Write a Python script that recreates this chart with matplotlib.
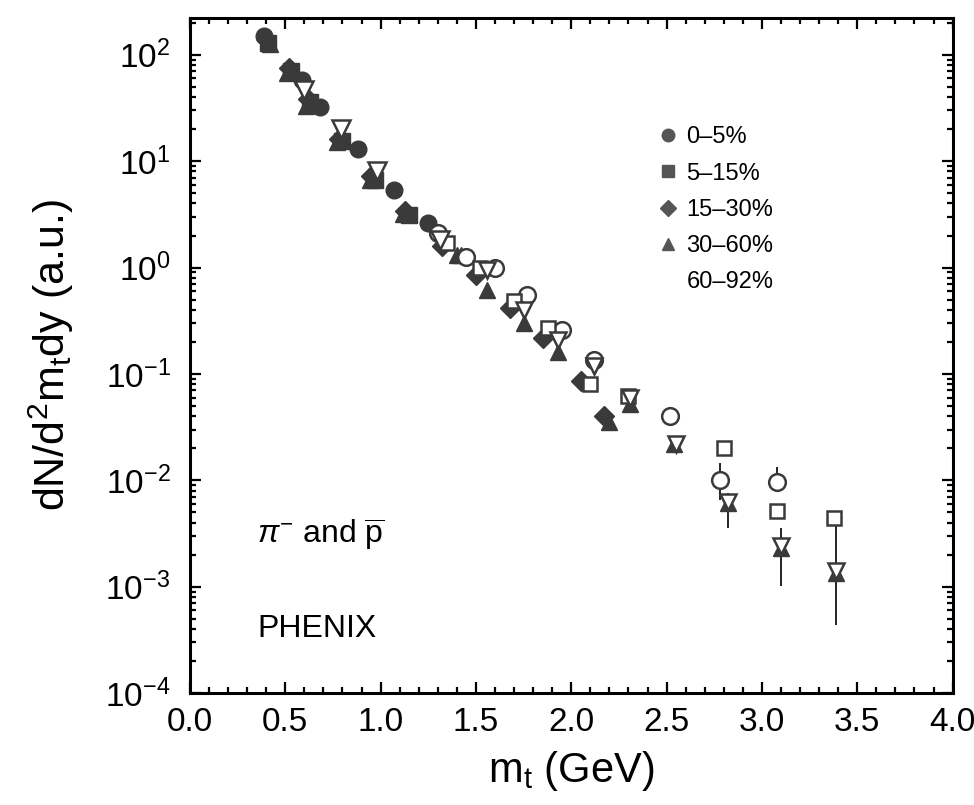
import numpy as np
import matplotlib
matplotlib.use("Agg")
import matplotlib.pyplot as plt
from matplotlib.lines import Line2D
from matplotlib.ticker import MultipleLocator, LogLocator, FormatStrFormatter

plt.rcParams['font.family'] = ['Liberation Sans', 'DejaVu Sans']
plt.rcParams['mathtext.fontset'] = 'custom'
plt.rcParams['mathtext.rm'] = 'Liberation Sans'
plt.rcParams['mathtext.it'] = 'Liberation Sans:italic'
plt.rcParams['mathtext.sf'] = 'Liberation Sans'

labels = ["0\u20135%", "5\u201315%", "15\u201330%", "30\u201360%", "60\u201392%"]
markers = ["o", "s", "D", "^", "v"]

# pi- points (filled, 60-92% open)
pi_mt = [
    [0.39, 0.59, 0.68, 0.88, 1.07, 1.25],
    [0.41, 0.53, 0.63, 0.80, 0.97, 1.15],
    [0.40, 0.52, 0.62, 0.78, 0.95, 1.13],
    [0.42, 0.51, 0.61, 0.77, 0.945, 1.12, 1.40],
    [0.60, 0.79, 0.98, 1.31],
]
pi_y = [
    [150, 58, 32, 13, 5.4, 2.6],
    [130, 70, 36, 15.5, 6.6, 3.1],
    [140, 75, 38, 16, 7.2, 3.4],
    [125, 68, 33, 15, 6.6, 3.2, 1.3],
    [47, 20, 8.0, 1.8],
]

# pbar points
pb_mt = [
    [1.30, 1.45, 1.60, 1.77, 1.95, 2.12, 2.52, 2.78, 3.08],
    [1.35, 1.52, 1.70, 1.88, 2.10, 2.30, 2.80, 3.08, 3.38],
    [1.32, 1.50, 1.68, 1.85, 2.05, 2.17],
    [1.42, 1.56, 1.75, 1.93, 2.20, 2.31, 2.54, 2.82, 3.10, 3.39],
    [1.56, 1.75, 1.93, 2.12, 2.31, 2.55, 2.82, 3.10, 3.39],
]
pb_y = [
    [2.1, 1.25, 1.0, 0.55, 0.26, 0.135, 0.040, 0.010, 0.0097],
    [1.7, 1.0, 0.48, 0.27, 0.08, 0.062, 0.020, 0.0052, 0.0044],
    [1.6, 0.85, 0.42, 0.22, 0.085, 0.040],
    [1.3, 0.62, 0.30, 0.16, 0.035, 0.052, 0.022, 0.0061, 0.0023, 0.00135],
    [0.95, 0.40, 0.21, 0.12, 0.06, 0.022, 0.0062, 0.0024, 0.0014],
]
pb_open = [True, True, False, False, True]

# error bars at high mt
err_mt = [2.78, 2.82, 3.08, 3.10, 3.39]
err_lo = [0.0065, 0.0036, 0.0097, 0.00101, 0.00044]
err_hi = [0.0147, 0.0076, 0.0134, 0.0036, 0.0042]

dark = "#3a3a3a"

fig = plt.figure(figsize=(9.74, 8.05), dpi=100)
ax = fig.add_axes([0.195, 0.139, 0.783, 0.839])

ax.vlines(err_mt, err_lo, err_hi, color="black", lw=1.2, zorder=1)

for i in range(5):
    if i == 4:
        ax.plot(pi_mt[i], pi_y[i], ls="none", marker=markers[i], ms=13,
                mfc="white", mec=dark, mew=1.8, zorder=3)
    else:
        ax.plot(pi_mt[i], pi_y[i], ls="none", marker=markers[i], ms=12 if i != 2 else 10,
                mfc=dark, mec=dark, zorder=2)
    if pb_open[i]:
        ax.plot(pb_mt[i], pb_y[i], ls="none", marker=markers[i], ms=12 if i != 1 else 10,
                mfc="white", mec=dark, mew=1.8, zorder=3)
    else:
        ax.plot(pb_mt[i], pb_y[i], ls="none", marker=markers[i], ms=12 if i != 2 else 10,
                mfc=dark, mec=dark, zorder=2)

ax.set_yscale("log")
ax.set_xlim(0, 4.0)
ax.set_ylim(1e-4, 223)

ax.xaxis.set_major_locator(MultipleLocator(0.5))
ax.xaxis.set_minor_locator(MultipleLocator(0.1))
ax.xaxis.set_major_formatter(FormatStrFormatter("%.1f"))
ax.yaxis.set_major_locator(LogLocator(base=10, numticks=20))
ax.yaxis.set_minor_locator(LogLocator(base=10, subs=np.arange(2, 10), numticks=20))

ax.tick_params(which="both", direction="in", top=True, right=True, width=1.6)
ax.tick_params(which="major", length=8, labelsize=24)
ax.tick_params(axis="x", which="major", pad=10)
ax.tick_params(axis="y", which="major", pad=14)
ax.tick_params(which="minor", length=4)
for s in ax.spines.values():
    s.set_linewidth(2.2)

ax.set_xlabel(r"m$_{\rm t}$ (GeV)", fontsize=30)
ax.set_ylabel(r"dN/d$^{2}$m$_{\rm t}$dy (a.u.)", fontsize=31)
ax.xaxis.set_label_coords(0.5, -0.083)
ax.yaxis.set_label_coords(-0.15, 0.5)

ax.text(0.088, 0.234, r"$\pi^{-}$ and $\overline{\rm p}$", transform=ax.transAxes,
        fontsize=23, va="center", ha="left")
ax.text(0.088, 0.095, "PHENIX", transform=ax.transAxes,
        fontsize=23, va="center", ha="left")

handles = []
for i in range(5):
    if i == 4:
        handles.append(Line2D([], [], ls="none", marker=markers[i], ms=9,
                              mfc="none", mec="none"))
    else:
        handles.append(Line2D([], [], ls="none", marker=markers[i],
                              ms=9 if i != 2 else 8, mfc="#555555", mec="#555555"))
ax.legend(handles, labels, loc="upper left", bbox_to_anchor=(0.614, 0.839),
          frameon=False, fontsize=17, handlelength=0.8, handletextpad=0.4,
          labelspacing=0.6, borderpad=0, borderaxespad=0)

fig.savefig("out.png", dpi=100)
